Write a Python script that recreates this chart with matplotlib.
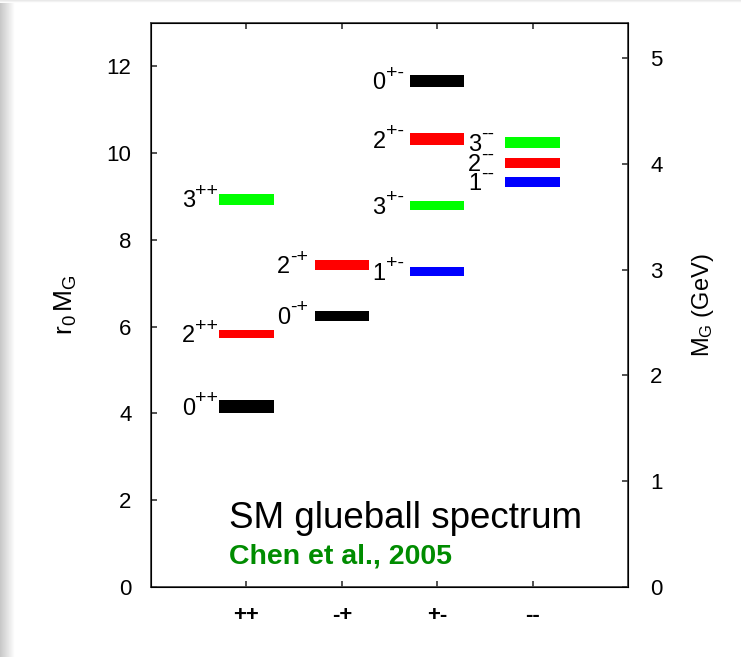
import numpy as np
import matplotlib
matplotlib.use('Agg')
import matplotlib.pyplot as plt

plt.rcParams['font.family'] = ['Liberation Sans', 'DejaVu Sans']
plt.rcParams['mathtext.fontset'] = 'custom'
plt.rcParams['mathtext.rm'] = 'Liberation Sans'
plt.rcParams['mathtext.it'] = 'Liberation Sans:italic'
plt.rcParams['mathtext.bf'] = 'Liberation Sans:bold'

# glueball masses r0*M_G (Chen et al. 2005)
channels = ['++', '-+', '+-', '--']
states = ['0++', '2++', '3++', '0-+', '2-+', '0+-', '2+-', '3+-', '1+-', '3--', '2--', '1--']
chan = [1, 1, 1, 2, 2, 3, 3, 3, 3, 4, 4, 4]
r0m = [4.16, 5.83, 8.94, 6.25, 7.42, 11.66, 10.32, 8.79, 7.27, 10.25, 9.77, 9.34]
half = [0.145, 0.10, 0.125, 0.11, 0.115, 0.14, 0.135, 0.11, 0.105, 0.125, 0.12, 0.11]
cols = ['black', 'red', '#00ff00', 'black', 'red', 'black', 'red', '#00ff00', 'blue', '#00ff00', 'red', 'blue']
r0_inv = 0.41  # GeV

fig = plt.figure(figsize=(7.41, 6.57), dpi=100)
fig.patch.set_facecolor('white')

# slide shadow on the left and top edge
sh = fig.add_axes([0, 0, 14 / 741, 1])
sh.imshow(np.linspace(0.78, 1.0, 64)[None, :], cmap='gray', vmin=0, vmax=1,
          aspect='auto', extent=[0, 1, 0, 1])
sh.axis('off')
sh2 = fig.add_axes([0, 1 - 3 / 657, 1, 3 / 657])
sh2.imshow(np.linspace(0.90, 1.0, 8)[:, None], cmap='gray', vmin=0, vmax=1,
           aspect='auto', extent=[0, 1, 0, 1])
sh2.axis('off')

ax = fig.add_axes([151 / 741, 1 - 587 / 657, 477 / 741, 564 / 657])
w = 0.57
for c, v, h, col in zip(chan, r0m, half, cols):
    ax.bar(c, 2 * h, bottom=v - h, width=w, color=col, linewidth=0)

# state labels: digit plus raised charge/parity signs
for s, c, v in zip(states, chan, r0m):
    ax.annotate(s[0], xy=(c - w / 2, v), xytext=(-27, -6),
                textcoords='offset points', ha='left', va='baseline', fontsize=17)
    ax.annotate(s[1:], xy=(c - w / 2, v), xytext=(-17.6, 2.5),
                textcoords='offset points', ha='left', va='baseline', fontsize=14)

ax.text(0.82, 1.36, 'SM glueball spectrum', fontsize=26.5, va='baseline', ha='left')
ax.text(0.82, 0.55, 'Chen et al., 2005', fontsize=20.5, fontweight='bold',
        color='#008c00', va='baseline', ha='left')

ax.set_xlim(0, 5)
ax.set_ylim(0, 13)
ax.set_xticks(range(1, 5))
ax.set_xticklabels(channels, fontweight='bold')
ax.set_yticks(range(0, 13, 2))
ax.tick_params(direction='in', length=4, width=1.2, labelsize=16, pad=14,
               top=True, right=False, color='#333333')
ax.tick_params(axis='x', pad=13)
ax.set_ylabel(r'$\mathregular{r_0\,M_G}$', fontsize=19, labelpad=20)
for sp in ax.spines.values():
    sp.set_color('#444444')
    sp.set_linewidth(1.3)

ax2 = ax.twinx()
ax2.set_ylim(0, 13 * r0_inv)
ax2.set_yticks(range(0, 6))
ax2.tick_params(direction='in', length=4, width=1.2, labelsize=16, pad=16, color='#333333')
ax2.set_ylabel(r'$\mathregular{M_G}$ (GeV)', fontsize=17, labelpad=20)

plt.savefig('out.png', dpi=100)
